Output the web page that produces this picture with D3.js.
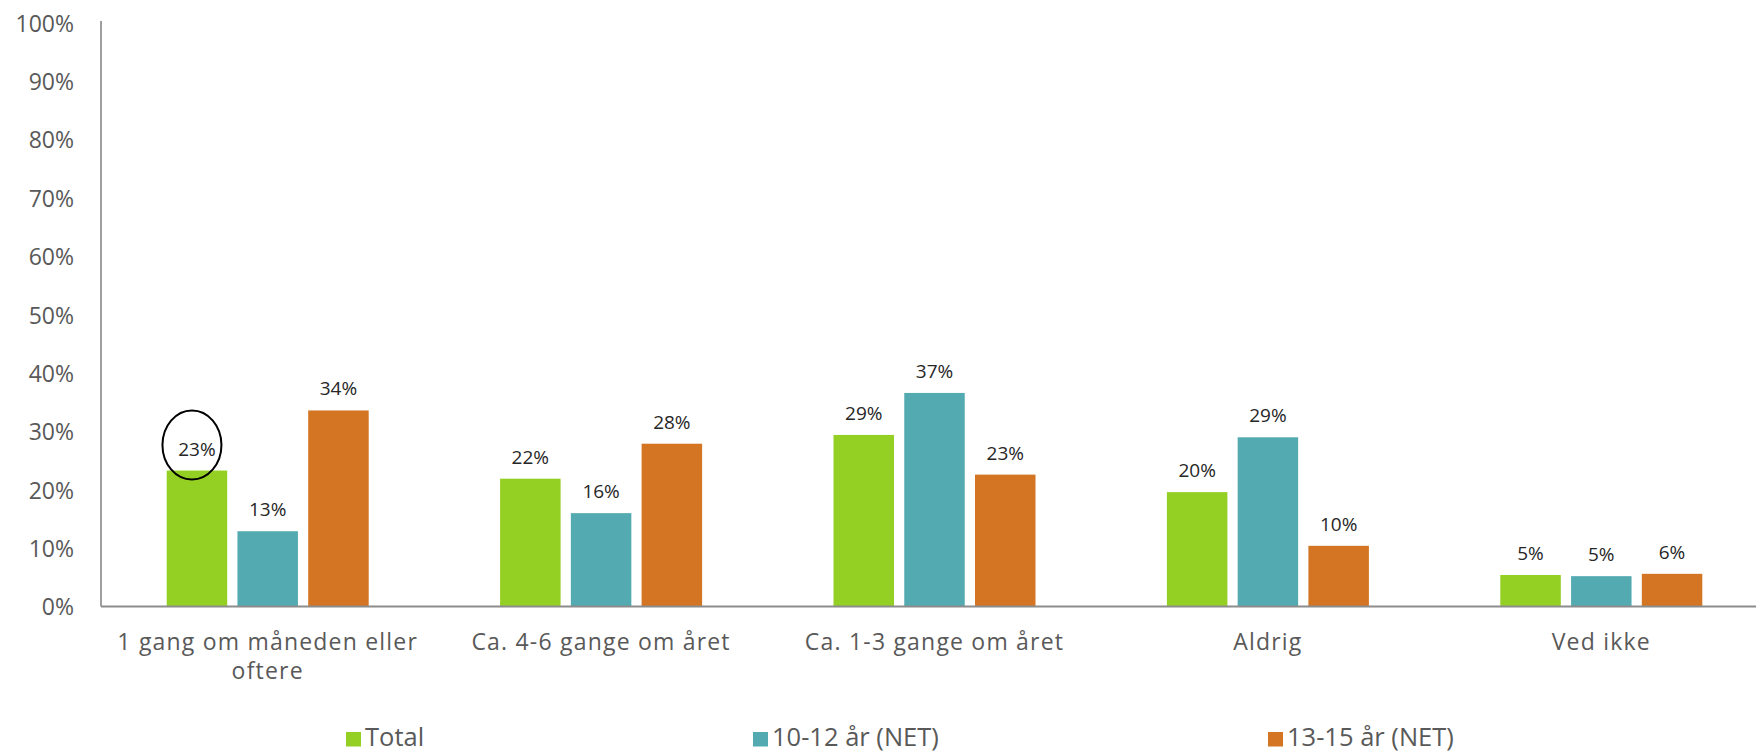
<!DOCTYPE html>
<html><head><meta charset="utf-8">
<script src="https://cdn.jsdelivr.net/npm/d3@7"></script>
<style>html,body{margin:0;padding:0;background:#fff;}svg{display:block;}</style>
</head><body>
<svg id="chart" width="1756" height="754"></svg>
<script>
const categories = ["1 gang om måneden eller oftere", "Ca. 4-6 gange om året", "Ca. 1-3 gange om året", "Aldrig", "Ved ikke"];
const categoryLines = [["1 gang om måneden eller", "oftere"], ["Ca. 4-6 gange om året"], ["Ca. 1-3 gange om året"], ["Aldrig"], ["Ved ikke"]];
const seriesNames = ["Total", "10-12 år (NET)", "13-15 år (NET)"];
const totalValues = [23.3, 21.9, 29.4, 19.6, 5.4];
const age1012Values = [12.9, 16.0, 36.6, 29.0, 5.2];
const age1315Values = [33.6, 27.9, 22.6, 10.4, 5.6];
const yTicks = [0, 10, 20, 30, 40, 50, 60, 70, 80, 90, 100];
const colors = ["#94cf23", "#53abb1", "#d47523"];

const seriesValues = [totalValues, age1012Values, age1315Values];
const FONT = "'Open Sans', Lato, sans-serif";
const svg = d3.select("#chart");
const mLeft = 101, mRight = 1768, mTop = 23, mBottom = 606.5;

const x0 = d3.scaleBand().domain(categories).range([mLeft, mRight]).paddingInner(0).paddingOuter(0);
const x1 = d3.scaleBand().domain(seriesNames).range([0, 202]).paddingInner(0.145).paddingOuter(0);
const groupOffset = (x0.bandwidth() - 202) / 2;
const y = d3.scaleLinear().domain([0, 100]).range([mBottom, mTop]);

// y axis labels
const yAxis = d3.axisLeft(y).tickValues(yTicks).tickFormat(d => d + "%").tickSize(0).tickPadding(27);
const gy = svg.append("g").attr("transform", `translate(${mLeft},0)`).call(yAxis);
gy.select(".domain").remove();
gy.selectAll("text").attr("font-family", FONT).attr("font-size", 23).attr("fill", "#595959").attr("dy", "0.36em");

// bars
categories.forEach((cat, i) => {
  const g = svg.append("g").attr("transform", `translate(${x0(cat) + groupOffset},0)`);
  seriesNames.forEach((s, j) => {
    const v = seriesValues[j][i];
    g.append("rect")
      .attr("x", x1(s)).attr("y", y(v))
      .attr("width", x1.bandwidth()).attr("height", y(0) - y(v))
      .attr("fill", colors[j]);
    g.append("text")
      .attr("x", x1(s) + x1.bandwidth() / 2).attr("y", y(v) - 15)
      .attr("text-anchor", "middle")
      .attr("font-family", FONT).attr("font-size", 19).attr("fill", "#262626")
      .text(Math.round(v) + "%");
  });
});

// highlight ellipse around first Total label
{
  const cx = x0(categories[0]) + groupOffset + x1(seriesNames[0]) + x1.bandwidth() / 2 - 5;
  const cy = y(totalValues[0]) - 25.5;
  svg.append("ellipse").attr("cx", cx).attr("cy", cy).attr("rx", 29.5).attr("ry", 34.5)
    .attr("fill", "none").attr("stroke", "#000").attr("stroke-width", 2);
}

// axes lines
svg.append("line").attr("x1", mLeft).attr("x2", mLeft).attr("y1", mTop - 2).attr("y2", mBottom)
  .attr("stroke", "#7f7f7f").attr("stroke-width", 1.5);
svg.append("line").attr("x1", mLeft).attr("x2", 1756).attr("y1", mBottom).attr("y2", mBottom)
  .attr("stroke", "#8c8c8c").attr("stroke-width", 2);

// category labels (one text per line)
categories.forEach((cat, i) => {
  const cxl = x0(cat) + x0.bandwidth() / 2;
  categoryLines[i].forEach((ln, k) => {
    svg.append("text")
      .attr("x", cxl).attr("y", 650 + k * 29)
      .attr("text-anchor", "middle")
      .attr("font-family", FONT).attr("font-size", 23).attr("letter-spacing", 1.2).attr("fill", "#595959")
      .text(ln);
  });
});

// legend
const legendX = [346, 753, 1268];
seriesNames.forEach((s, j) => {
  svg.append("rect").attr("x", legendX[j]).attr("y", 732).attr("width", 15).attr("height", 14.5).attr("fill", colors[j]);
  svg.append("text").attr("x", legendX[j] + 19).attr("y", 746)
    .attr("font-family", FONT).attr("font-size", 25.5).attr("fill", "#595959")
    .text(s);
});
</script>
</body></html>
